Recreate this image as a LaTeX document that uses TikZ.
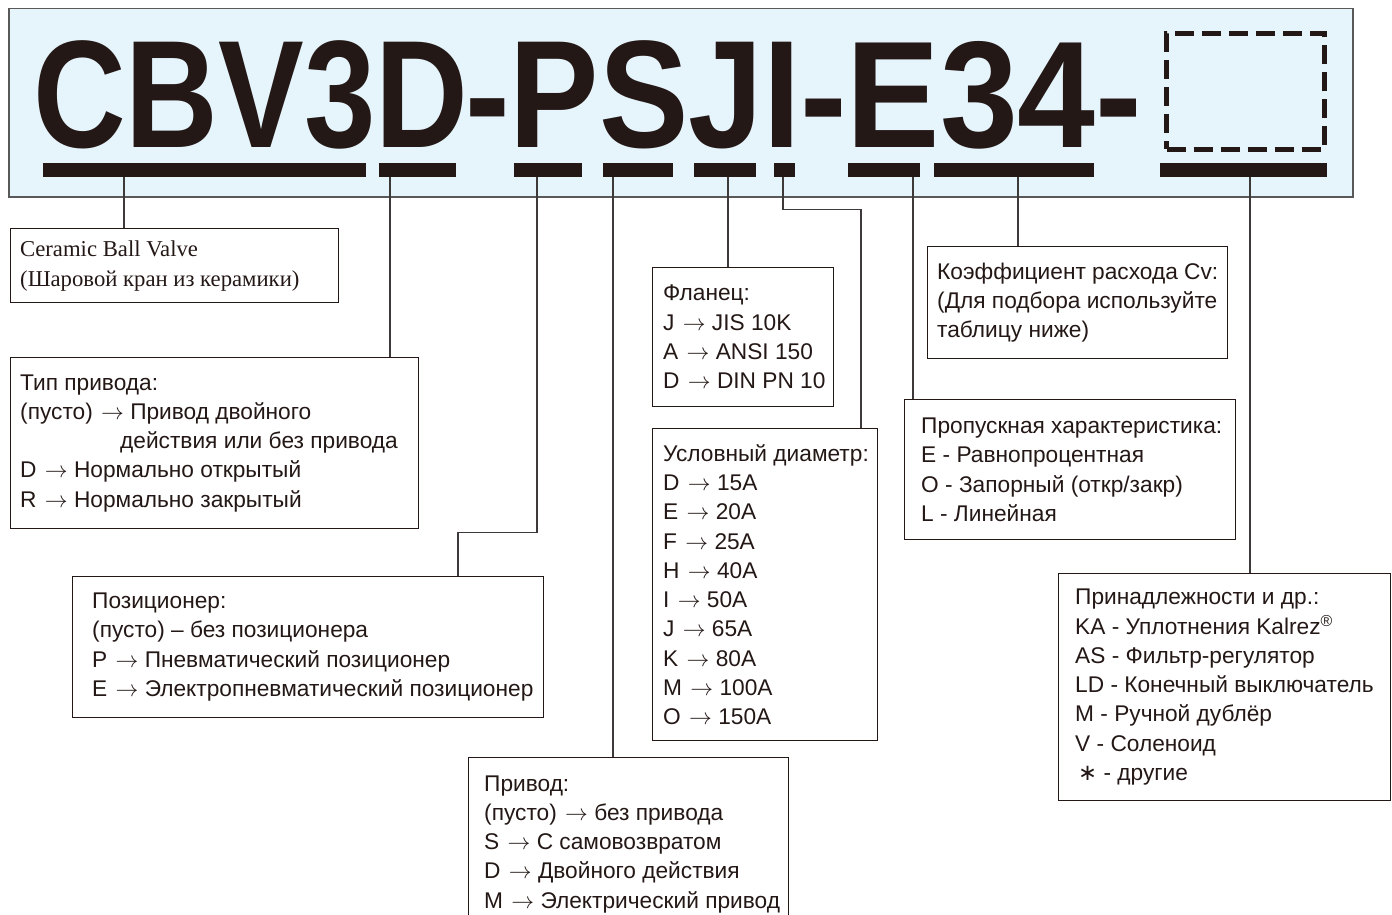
\documentclass[tikz,border=0pt]{standalone}
\usepackage{fontspec}
\usepackage{graphicx}
\setmainfont{Liberation Sans}
\newfontfamily\valveserif{Liberation Serif}
\newfontfamily\starfont{DejaVu Sans}
\usetikzlibrary{positioning}
\definecolor{inkdark}{HTML}{231815}
\definecolor{linegray}{HTML}{3E3A39}
\definecolor{bannerblue}{HTML}{E6F4FC}
\newcommand{\toarr}{\hspace{2pt}\scalebox{1.1}{$\rightarrow$}}
\newcommand{\otherstar}{\hspace*{3pt}{\starfont ∗}}
\tikzset{
  codeseg/.style={inner sep=0pt, anchor=base west, text=inkdark, font=\bfseries},
  codebar/.style={fill=inkdark, inner sep=0pt, minimum height=14pt, anchor=north west},
  infobox/.style={draw=inkdark, line width=1.3pt, inner sep=0pt, anchor=north west},
  infotext/.style={inner sep=0pt, align=left, text=inkdark, font=\fontsize{22.7}{29.3}\selectfont},
  lead/.style={draw=linegray, line width=1.3pt},
}
\begin{document}
\begin{tikzpicture}[x=1pt,y=-1pt]
\useasboundingbox (0,0) rectangle (1392,915);
% model code banner
\node[draw=black!65, fill=bannerblue, line width=1.5pt, inner sep=0pt, minimum width=1344pt, minimum height=188pt, anchor=north west] (banner) at (8,8) {};
\node[codeseg] (codeA) at (33,147) {\resizebox{435pt}{106.8pt}{CBV3D}};
\node[codeseg] (codeB) at (465,147) {\resizebox{335pt}{106.8pt}{-PSJI}};
\node[codeseg] (codeC) at (800,147) {\resizebox{342pt}{106pt}{-E34-}};
\node[draw=inkdark, line width=5pt, dash pattern=on 19pt off 8pt, inner sep=0pt, minimum width=158pt, minimum height=116pt, anchor=north west] (blank) at (1164,31) {};
% bars under the code
\node[codebar, minimum width=323pt] (barCBV) at (43,163) {};
\node[codebar, minimum width=77pt] (barD) at (379,163) {};
\node[codebar, minimum width=68pt] (barP) at (514,163) {};
\node[codebar, minimum width=70pt] (barS) at (603,163) {};
\node[codebar, minimum width=62pt] (barJ) at (694,163) {};
\node[codebar, minimum width=21pt] (barI) at (774,163) {};
\node[codebar, minimum width=72pt] (barE) at (848,163) {};
\node[codebar, minimum width=160pt] (barCv) at (934,163) {};
\node[codebar, minimum width=167pt] (barOpt) at (1160,163) {};
% boxes
\node[infobox, minimum width=328pt, minimum height=74pt] (ceramic) at (10,228) {};
\node[infotext, right=10pt of ceramic.west, font=\valveserif\fontsize{22.7}{30}\selectfont] (ceramictext) {Ceramic Ball Valve\\(Шаровой кран из керамики)};
\node[infobox, minimum width=408pt, minimum height=171pt] (tip) at (10,357) {};
\node[infotext, right=10pt of tip.west] (tiptext) {Тип привода:\\(пусто) \toarr{} Привод двойного\\\hspace*{100pt}действия или без привода\\D \toarr{} Нормально открытый\\R \toarr{} Нормально закрытый};
\node[infobox, minimum width=471pt, minimum height=141pt] (pos) at (72,576) {};
\node[infotext, right=20pt of pos.west] (postext) {Позиционер:\\(пусто) – без позиционера\\P \toarr{} Пневматический позиционер\\E \toarr{} Электропневматический позиционер};
\node[infobox, minimum width=320pt, minimum height=173pt] (priv) at (468,757) {};
\node[infotext, right=16pt of priv.west] (privtext) {Привод:\\(пусто) \toarr{} без привода\\S \toarr{} С самовозвратом\\D \toarr{} Двойного действия\\M \toarr{} Электрический привод};
\node[infobox, minimum width=181pt, minimum height=139pt] (flan) at (652,267) {};
\node[infotext, right=11pt of flan.west] (flantext) {Фланец:\\J \toarr{} JIS 10K\\A \toarr{} ANSI 150\\D \toarr{} DIN PN 10};
\node[infobox, minimum width=225pt, minimum height=312pt] (diam) at (652,428) {};
\node[infotext, right=11pt of diam.west] (diamtext) {Условный диаметр:\\D \toarr{} 15A\\E \toarr{} 20A\\F \toarr{} 25A\\H \toarr{} 40A\\I \toarr{} 50A\\J \toarr{} 65A\\K \toarr{} 80A\\M \toarr{} 100A\\O \toarr{} 150A};
\node[infobox, minimum width=300pt, minimum height=112pt] (cv) at (927,246) {};
\node[infotext, right=10pt of cv.west] (cvtext) {Коэффициент расхода Cv:\\(Для подбора используйте\\таблицу ниже)};
\node[infobox, minimum width=331pt, minimum height=140pt] (prop) at (904,399) {};
\node[infotext, right=17pt of prop.west] (proptext) {Пропускная характеристика:\\E - Равнопроцентная\\O - Запорный (откр/закр)\\L - Линейная};
\node[infobox, minimum width=332pt, minimum height=227pt] (acc) at (1058,573) {};
\node[infotext, right=17pt of acc.west] (acctext) {Принадлежности и др.:\\KA - Уплотнения Kalrez\textsuperscript{®}\\AS - Фильтр-регулятор\\LD - Конечный выключатель\\M - Ручной дублёр\\V - Соленоид\\\otherstar{} - другие};
% leaders from bars to boxes
\draw[lead] (barCBV.south -| 124,0) -- (ceramic.north -| 124,0);
\draw[lead] (barD.south -| 390,0) -- (tip.north -| 390,0);
\draw[lead] (barP.south -| 537,0) -- ++(0,355) -| (pos.north -| 458,0);
\draw[lead] (barS.south -| 613,0) -- (priv.north -| 613,0);
\draw[lead] (barJ.south -| 728,0) -- (flan.north -| 728,0);
\draw[lead] (barI.south -| 783,0) -- ++(0,32) -| (diam.north -| 861,0);
\draw[lead] (barE.south -| 913,0) -- (prop.north -| 913,0);
\draw[lead] (barCv.south -| 1018,0) -- (cv.north -| 1018,0);
\draw[lead] (barOpt.south -| 1250,0) -- (acc.north -| 1250,0);
\end{tikzpicture}
\end{document}
